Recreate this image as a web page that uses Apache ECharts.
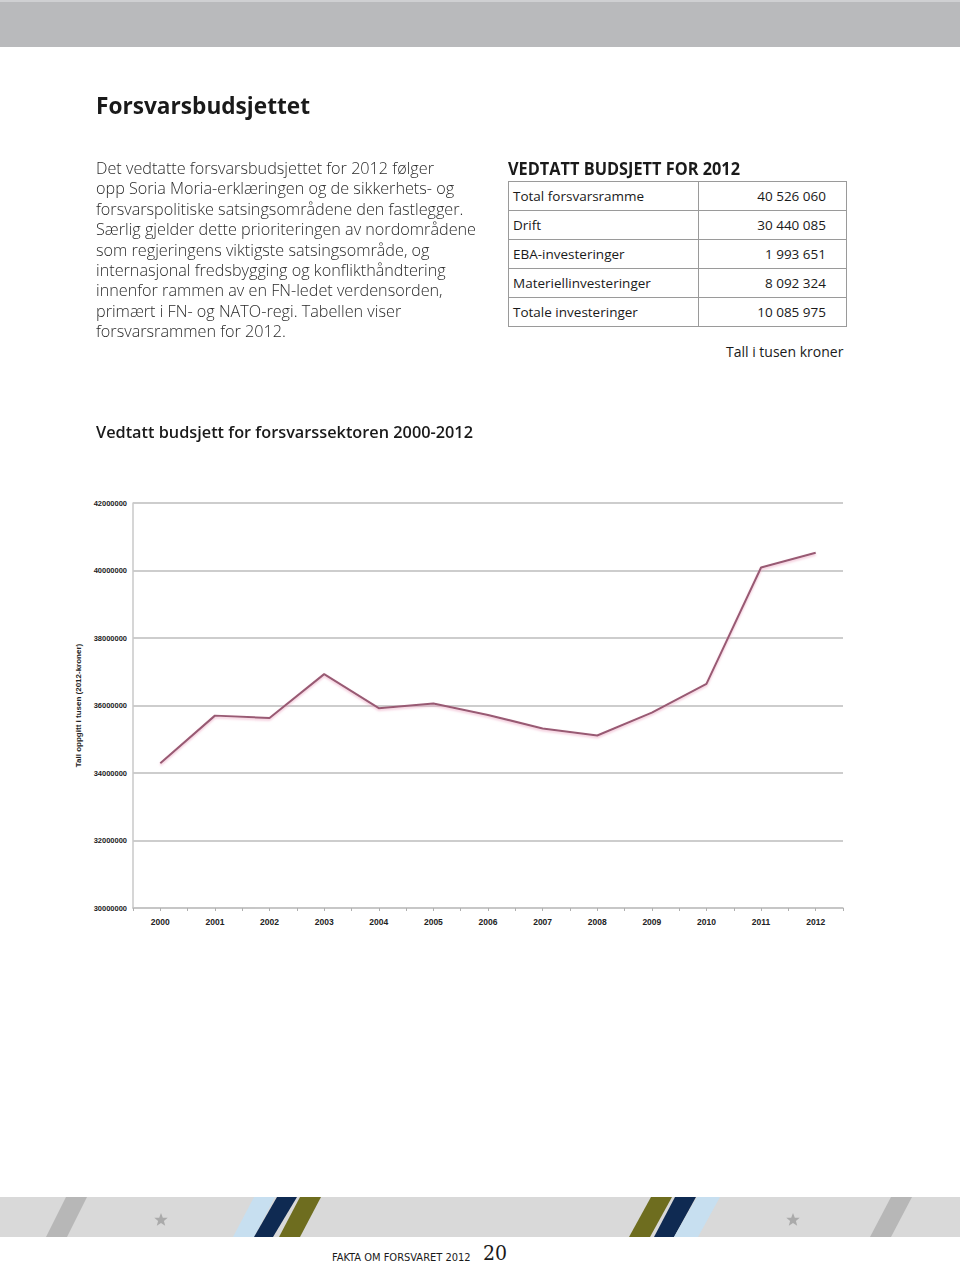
<!DOCTYPE html>
<html><head><meta charset="utf-8">
<script src="https://cdn.jsdelivr.net/npm/echarts@6/dist/echarts.min.js"></script>
<style>
html,body{margin:0;padding:0}
body{width:960px;height:1264px;position:relative;background:#fff;font-family:"Open Sans",sans-serif;overflow:hidden;color:#1a1a1a}
.abs{position:absolute;white-space:nowrap;transform-origin:0 50%}
#topbar{position:absolute;left:0;top:0;width:960px;height:47px;background:#b9babc;border-top:2px solid #cfd0d2;box-sizing:border-box}
#title{left:96px;top:88px;font-size:24px;font-weight:bold;line-height:34px}
.para{left:96px;font-size:16px;line-height:20px;color:#2a2a2a;font-weight:300}
#ttitle{left:508px;top:158px;font-size:17px;font-weight:bold;line-height:22px}
table{position:absolute;left:508px;top:181px;border-collapse:collapse;font-size:13.5px}
td{border:1.5px solid #9a9a9a;height:28.3px;line-height:28px;white-space:nowrap;box-sizing:border-box;padding:0}
td.l{width:190px;padding-left:4px}
td.v{width:148px;text-align:right;padding-right:20px}
#unit{left:726px;top:342px;font-size:14px;line-height:20px}
#ctitle{left:96px;top:421px;font-size:17px;font-weight:600;line-height:22px}
#chart{position:absolute;left:60px;top:480px;width:800px;height:460px}
#footer{position:absolute;left:0;top:1197px}
#ftext{left:332px;top:1250px;font-size:11px;font-family:"DejaVu Sans Condensed","Liberation Sans Narrow",sans-serif;line-height:16px}
#pnum{left:483px;top:1240px;font-size:21px;font-family:"DejaVu Serif Condensed","Liberation Serif",serif;line-height:26px}
</style></head>
<body>
<div id="topbar"></div>
<div class="abs" id="title" data-w="214">Forsvarsbudsjettet</div>
<div id="paraBox"></div>
<div class="abs" id="ttitle" data-w="232">VEDTATT BUDSJETT FOR 2012</div>
<table id="tbl"></table>
<div class="abs" id="unit">Tall i tusen kroner</div>
<div class="abs" id="ctitle" data-w="377">Vedtatt budsjett for forsvarssektoren 2000-2012</div>
<div id="chart"></div>
<svg id="footer" width="960" height="42" xmlns="http://www.w3.org/2000/svg">
  <rect x="0" y="0" width="960" height="40" fill="#d9d9d9"/>
  <polygon points="46,40 67,40 87,0 66,0" fill="#b7b7b7"/>
  <polygon points="233,40 254,40 275,0 254,0" fill="#c7dff0"/>
  <polygon points="254,40 273,40 297,0 277,0" fill="#0f2a52"/>
  <polygon points="279,40 300,40 321,0 300,0" fill="#6e6d1f"/>
  <polygon points="629,40 650,40 672,0 651,0" fill="#6e6d1f"/>
  <polygon points="654,40 674,40 696,0 675,0" fill="#0f2a52"/>
  <polygon points="674,40 698,40 720,0 697,0" fill="#c7dff0"/>
  <polygon points="870,40 891,40 912,0 891,0" fill="#b7b7b7"/>
  <polygon fill="#aaaaaa" transform="translate(161,23)" points="0,-7 1.8,-2.3 6.7,-2.2 2.9,0.9 4.2,5.7 0,2.9 -4.2,5.7 -2.9,0.9 -6.7,-2.2 -1.8,-2.3"/>
  <polygon fill="#aaaaaa" transform="translate(793,23)" points="0,-7 1.8,-2.3 6.7,-2.2 2.9,0.9 4.2,5.7 0,2.9 -4.2,5.7 -2.9,0.9 -6.7,-2.2 -1.8,-2.3"/>
</svg>
<div class="abs" id="ftext">FAKTA OM FORSVARET 2012</div>
<div class="abs" id="pnum">20</div>
<script>
// ---- Data ----
const paragraphLines = [
  "Det vedtatte forsvarsbudsjettet for 2012 følger",
  "opp Soria Moria-erklæringen og de sikkerhets- og",
  "forsvarspolitiske satsingsområdene den fastlegger.",
  "Særlig gjelder dette prioriteringen av nordområdene",
  "som regjeringens viktigste satsingsområde, og",
  "internasjonal fredsbygging og konflikthåndtering",
  "innenfor rammen av en FN-ledet verdensorden,",
  "primært i FN- og NATO-regi. Tabellen viser",
  "forsvarsrammen for 2012."
];
const tableLabels = ["Total forsvarsramme", "Drift", "EBA-investeringer", "Materiellinvesteringer", "Totale investeringer"];
const tableValues = ["40 526 060", "30 440 085", "1 993 651", "8 092 324", "10 085 975"];

const years = ["2000","2001","2002","2003","2004","2005","2006","2007","2008","2009","2010","2011","2012"];
const budget = [34290000, 35700000, 35630000, 36930000, 35920000, 36060000, 35720000, 35320000, 35110000, 35790000, 36640000, 40090000, 40526060];
const yMin = 30000000, yMax = 42000000, yStep = 2000000;
const yAxisName = "Tall oppgitt i tusen (2012-kroner)";

// ---- Page text ----
const pb = document.getElementById('paraBox');
paragraphLines.forEach((t, i) => {
  const d = document.createElement('div');
  d.className = 'abs para';
  d.style.top = (158 + i * 20.4) + 'px';
  d.textContent = t;
  pb.appendChild(d);
});
const tbl = document.getElementById('tbl');
tableLabels.forEach((l, i) => {
  const tr = document.createElement('tr');
  const a = document.createElement('td'); a.className = 'l'; a.textContent = l;
  const b = document.createElement('td'); b.className = 'v'; b.textContent = tableValues[i];
  tr.appendChild(a); tr.appendChild(b); tbl.appendChild(tr);
});
const paras = document.querySelectorAll('.para');
const w4 = paras[3].getBoundingClientRect().width;
const sx = 380 / w4;
paras.forEach(p => p.style.transform = 'scaleX(' + sx + ')');
document.querySelectorAll('[data-w]').forEach(el => {
  const w = el.getBoundingClientRect().width;
  el.style.transform = 'scaleX(' + (parseFloat(el.dataset.w) / w) + ')';
});

// ---- Chart ----
const halfTicks = years.concat(years).map(() => '');
const chart = echarts.init(document.getElementById('chart'), null, {renderer: 'svg'});
chart.setOption({
  animation: false,
  grid: {left: 73, top: 23, width: 710, height: 405, containLabel: false, outerBoundsMode: 'none'},
  xAxis: [{
    type: 'category', data: years, boundaryGap: true,
    axisLine: {lineStyle: {color: '#c4c4c4', width: 1.5}},
    axisTick: {show: false},
    axisLabel: {fontSize: 8.5, color: '#222', fontWeight: 'bold', margin: 9, fontFamily: 'sans-serif'}
  }, {
    type: 'category', data: halfTicks, boundaryGap: true, position: 'bottom',
    axisLine: {show: false},
    axisTick: {show: true, length: 3, lineStyle: {color: '#b0b0b0', width: 1}},
    axisLabel: {show: false}
  }],
  yAxis: {
    type: 'value', min: yMin, max: yMax, interval: yStep,
    axisLine: {show: true, lineStyle: {color: '#c8c8c8', width: 1.5}},
    axisTick: {show: false},
    splitLine: {lineStyle: {color: '#bdbdbd', width: 1.5}},
    axisLabel: {fontSize: 7.5, color: '#222', margin: 6, fontWeight: 'bold', fontFamily: 'sans-serif',
      formatter: v => String(v)},
    name: yAxisName, nameLocation: 'middle', nameGap: 36,
    nameTextStyle: {fontSize: 8, fontWeight: 'bold', color: '#222', fontFamily: 'sans-serif'}
  },
  series: [{
    type: 'line', data: budget, xAxisIndex: 0, symbol: 'none',
    lineStyle: {color: '#985a73', width: 2, shadowColor: 'rgba(235,160,190,0.7)', shadowBlur: 2, shadowOffsetY: 1.5}
  }]
});
</script>
</body></html>
